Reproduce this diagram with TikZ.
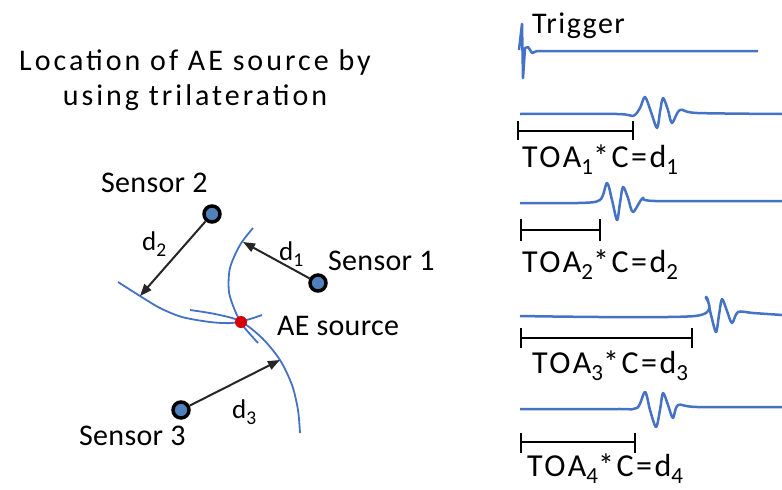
\documentclass[tikz,border=0pt]{standalone}
\usepackage{fontspec}
\usepackage{graphicx}
\setmainfont{Carlito}[LetterSpace=1]
\newfontfamily\titlefont{Carlito}[LetterSpace=10]
\newfontfamily\trigfont{Carlito}[LetterSpace=5]
\newfontfamily\toafont{Carlito}[LetterSpace=8]
\usetikzlibrary{arrows.meta}
\definecolor{wblue}{RGB}{68,114,196}
\definecolor{sblue}{RGB}{79,129,189}
\definecolor{adark}{RGB}{38,38,38}
\definecolor{srcred}{RGB}{214,0,0}
\newcommand{\sbs}[1]{\raisebox{-0.24em}{\scalebox{0.72}{#1}}}
\begin{document}
\begin{tikzpicture}[x=1pt,y=-1pt,
  lbl/.style={font=\fontsize{30}{36}\selectfont, inner sep=0pt, anchor=base west},
  toa/.style={font=\toafont\fontsize{32}{38}\selectfont, inner sep=0pt, anchor=base west},
  dl/.style={font=\fontsize{27}{32}\selectfont, inner sep=0pt, anchor=base west},
  sensor/.style={circle, draw=black, line width=3.5pt, fill=sblue, minimum size=16pt, inner sep=0pt},
  source/.style={circle, fill=srcred, minimum size=12pt, inner sep=0pt},
  arc/.style={draw=wblue, line width=1.8pt},
  wave/.style={draw=wblue, line width=2.5pt, line join=round},
  dist/.style={draw=adark, line width=2pt, -{Triangle[length=12pt,width=9pt]}},
  bar/.style={draw=black, line width=2.5pt},
]
\useasboundingbox (0,0) rectangle (782,490);

% title
\node[font=\titlefont\fontsize{30}{36}\selectfont, inner sep=0pt, anchor=base] (t1) at (195,70) {Location of AE source by};
\node[font=\titlefont\fontsize{30}{36}\selectfont, inner sep=0pt, anchor=base] (t2) at (195,105) {using trilateration};

% arcs
\draw[arc] plot[smooth] coordinates {(253,228) (240,245) (230,268) (229,292) (236,313) (244,327) (258,343)};
\draw[arc] plot[smooth] coordinates {(118,282) (140,296) (160,308) (182,317) (210,322) (232,323) (250,319) (262,315)};
\draw[arc] plot[smooth] coordinates {(190,310) (215,314) (240,321) (262,338) (280,360) (292,385) (298,410) (300,433)};

% sensors and source
\node[sensor] (s2) at (212,214) {};
\node[sensor] (s1) at (318,283) {};
\node[sensor] (s3) at (181,410) {};
\node[source] (src) at (241,322) {};

\coordinate (e2) at (140,296);
\coordinate (e1) at (243,242);
\coordinate (e3) at (280,360);
\draw[dist] (s2) -- (e2);
\draw[dist] (s1) -- (e1);
\draw[dist] (s3) -- (e3);

\node[lbl] (l2) at (101,192) {Sensor 2};
\node[lbl] (l1) at (328,270) {Sensor 1};
\node[lbl] (l3) at (79,445) {Sensor 3};
\node[lbl] (lsrc) at (277,335) {AE source};
\node[dl] (d2) at (142,250) {d\sbs{2}};
\node[dl] (d1) at (279,260) {d\sbs{1}};
\node[dl] (d3) at (232,418) {d\sbs{3}};

% trigger
\node[font=\trigfont\fontsize{30}{36}\selectfont, inner sep=0pt, anchor=base west] (trig) at (532,33) {Trigger};
\draw[wave] (519,50) -- (522,24) -- (523,78) -- (525,48) -- (528,47) -- (532,53) -- (537,51) -- (758,51);

% waveform 1
\draw[wave] plot[smooth, tension=0.5] coordinates {(520,114) (617,114) (633,116) (640,108) (645,97) (651,112) (657,128) (660,112) (663,98) (668,110) (672,123) (680,110) (697,113) (782,114)};
\draw[bar] (518,121) -- (518,140) (518,131) -- (633,131) (633,121) -- (633,140);
\node[toa] (toa1) at (522,167) {TOA\sbs{1}*C=d\sbs{1}};

% waveform 2
\draw[wave] plot[smooth, tension=0.5] coordinates {(520,203) (578,203) (600,200) (607,183) (612,200) (617,220) (620,203) (623,187) (628,198) (633,212) (643,198) (655,201) (782,201)};
\draw[bar] (521,219) -- (521,241) (521,230) -- (600,230) (600,219) -- (600,241);
\node[toa] (toa2) at (522,272) {TOA\sbs{2}*C=d\sbs{2}};

% waveform 3
\draw[wave] plot[smooth, tension=0.5] coordinates {(520,316) (695,316) (706,297) (711,315) (716,332) (719,315) (722,299) (727,311) (732,323) (738,312) (753,313) (782,315)};
\draw[bar] (521,328) -- (521,348) (521,338) -- (692,338) (692,328) -- (692,348);
\node[toa] (toa3) at (532,373) {TOA\sbs{3}*C=d\sbs{3}};

% waveform 4
\draw[wave] plot[smooth, tension=0.5] coordinates {(520,409) (617,409) (637,408) (645,392) (650,410) (656,427) (660,410) (663,393) (668,405) (673,418) (678,405) (697,407) (782,407)};
\draw[bar] (521,433) -- (521,453) (521,442) -- (635,442) (635,433) -- (635,453);
\node[toa] (toa4) at (527,476) {TOA\sbs{4}*C=d\sbs{4}};
\end{tikzpicture}
\end{document}
